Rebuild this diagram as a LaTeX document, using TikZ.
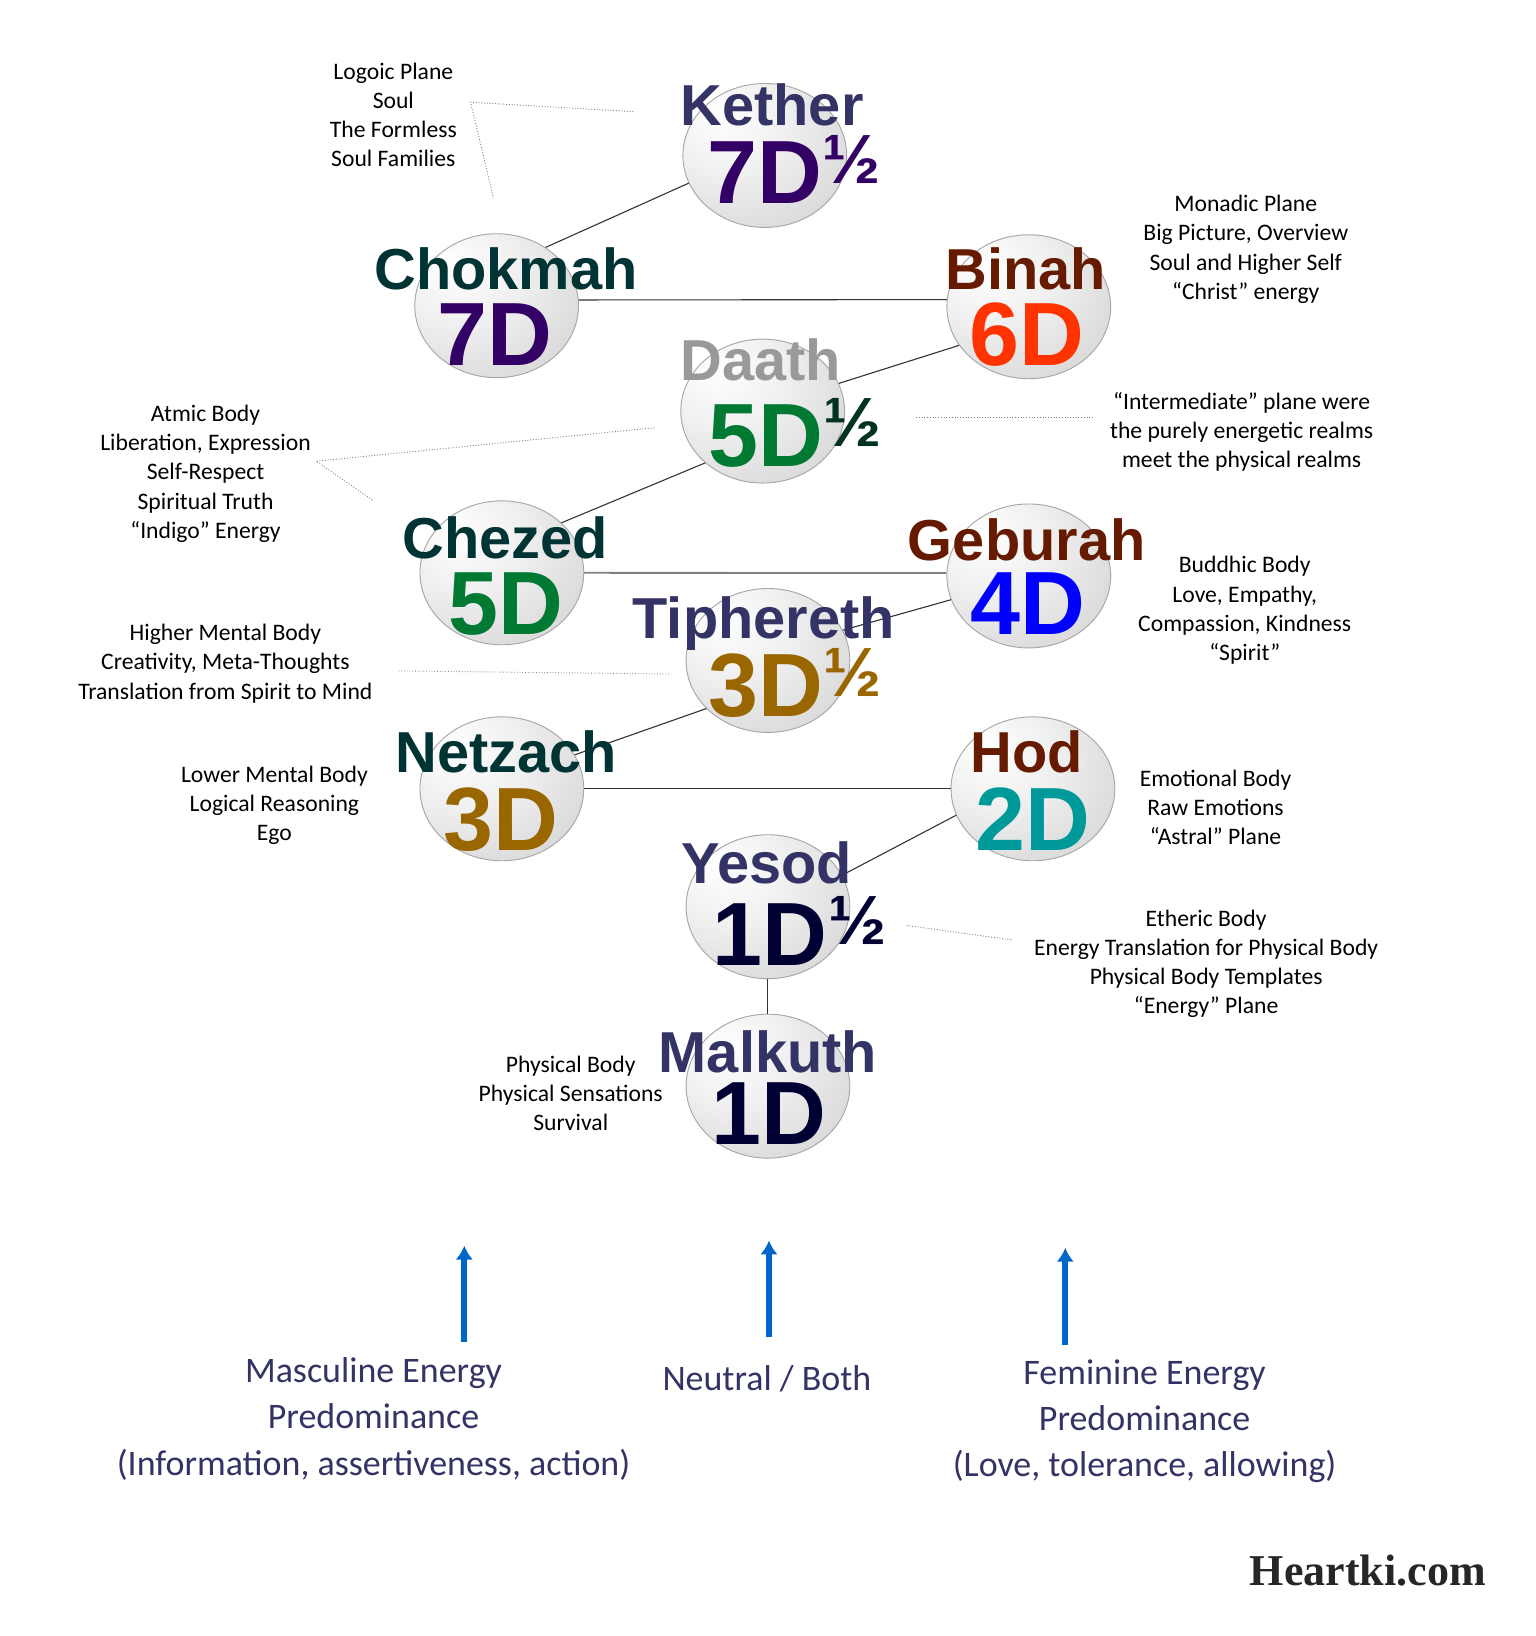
\documentclass[tikz,border=0pt]{standalone}
\usepackage{fontspec}
\setmainfont{Carlito}
\newfontfamily\sephfont{Liberation Sans}
\newfontfamily\sitefont{Liberation Serif}
\usetikzlibrary{shapes.geometric, arrows.meta}
\definecolor{nameblue}{HTML}{333366}
\definecolor{nameteal}{HTML}{003333}
\definecolor{namebrown}{HTML}{661A00}
\definecolor{namegray}{HTML}{999999}
\definecolor{dimpurple}{HTML}{330066}
\definecolor{dimred}{HTML}{FF3300}
\definecolor{dimgreen}{HTML}{007A33}
\definecolor{halfgreen}{HTML}{003322}
\definecolor{dimblue}{HTML}{0000FF}
\definecolor{dimochre}{HTML}{996600}
\definecolor{dimteal}{HTML}{009999}
\definecolor{dimnavy}{HTML}{000033}
\definecolor{flowblue}{HTML}{0066CC}
\pgfdeclareradialshading{sphereshade}{\pgfpoint{-15bp}{15bp}}{color(0bp)=(white); color(18bp)=(black!6); color(48bp)=(black!20); color(72bp)=(black!36)}
\tikzset{sphere/.style={ellipse, minimum width=3.14cm, minimum height=2.76cm, inner sep=0pt, draw=black!35, line width=0.5pt, shading=sphereshade}}
\tikzset{treepath/.style={draw=black!80, line width=0.6pt}}
\tikzset{pointer/.style={draw=black!50, densely dotted, line width=0.5pt}}
\tikzset{sephname/.style={font=\sephfont\bfseries\fontsize{31.5}{32}\selectfont, inner sep=0pt, anchor=base}}
\tikzset{dimnum/.style={font=\sephfont\bfseries\fontsize{49}{50}\selectfont, inner sep=0pt, anchor=base}}
\tikzset{halfmark/.style={font=\sephfont\bfseries\fontsize{38}{38}\selectfont, inner sep=0pt, anchor=base west}}
\tikzset{note/.style={align=center, font=\fontsize{12.9}{15.9}\selectfont}}
\tikzset{energy/.style={align=center, text=nameblue, font=\fontsize{19.6}{25.2}\selectfont}}
\tikzset{flow/.style={draw=flowblue, line width=3.2pt, -{Latex[length=7.5pt, width=9.5pt]}}}

\begin{document}
\begin{tikzpicture}[x=0.02cm, y=-0.02cm]
    \fill[white] (0,0) rectangle (1472,1568);
    \useasboundingbox (0,0) rectangle (1472,1568);

    % spheres
    \foreach \id/\x/\y in {kether/733/149, chokmah/476/293, binah/986/294, daath/731/394, chezed/481/549, geburah/986/552, tiphereth/736/633, netzach/481/756, hod/990/756, yesod/736/869, malkuth/736/1041} {
        \node[sphere] (\id) at (\x,\y) {};
    }

    % paths between the spheres
    \draw[treepath] (kether.200) -- (chokmah.50);
    \draw[treepath] (chokmah.4) -- (binah.175);
    \draw[treepath] (binah.209) -- (daath.20);
    \draw[treepath] (daath.222) -- (chezed.40);
    \draw[treepath, draw=black!50, line width=1pt] (chezed.0) -- (geburah.178);
    \draw[treepath] (geburah.197) -- (tiphereth.22);
    \draw[treepath] (tiphereth.218) -- (netzach.25);
    \draw[treepath] (netzach.0) -- (hod.180);
    \draw[treepath] (hod.199) -- (yesod.23);
    \draw[treepath] (yesod.south) -- (malkuth.north);

    % names and dimensions
    \node[sephname, text=nameblue] (kether-name) at (740,120) {Kether};
    \node[dimnum, text=dimpurple] (kether-dim) at (733,195) {7D};
    \node[halfmark, text=dimpurple] (kether-half) at ([yshift=11pt]kether-dim.base east) {½};

    \node[sephname, text=nameteal] (chokmah-name) at (485,277) {Chokmah};
    \node[dimnum, text=dimpurple] (chokmah-dim) at (474,350) {7D};

    \node[sephname, text=namebrown] (binah-name) at (983,277) {Binah};
    \node[dimnum, text=dimred] (binah-dim) at (984,350) {6D};

    \node[sephname, text=namegray] (daath-name) at (729,365) {Daath};
    \node[dimnum, text=dimgreen] (daath-dim) at (734,447) {5D};
    \node[halfmark, text=halfgreen] (daath-half) at ([yshift=11pt]daath-dim.base east) {½};

    \node[sephname, text=nameteal] (chezed-name) at (484,535) {Chezed};
    \node[dimnum, text=dimgreen] (chezed-dim) at (485,608) {5D};

    \node[sephname, text=namebrown] (geburah-name) at (984,537) {Geburah};
    \node[dimnum, text=dimblue] (geburah-dim) at (985,608) {4D};

    \node[sephname, text=nameblue] (tiphereth-name) at (732,612) {Tiphereth};
    \node[dimnum, text=dimochre] (tiphereth-dim) at (734,687) {3D};
    \node[halfmark, text=dimochre] (tiphereth-half) at ([yshift=11pt]tiphereth-dim.base east) {½};

    \node[sephname, text=nameteal] (netzach-name) at (485,740) {Netzach};
    \node[dimnum, text=dimochre] (netzach-dim) at (480,815) {3D};

    \node[sephname, text=namebrown] (hod-name) at (984,740) {Hod};
    \node[dimnum, text=dimteal] (hod-dim) at (990,815) {2D};

    \node[sephname, text=nameblue] (yesod-name) at (735,847) {Yesod};
    \node[dimnum, text=dimnavy] (yesod-dim) at (738,925) {1D};
    \node[halfmark, text=dimnavy] (yesod-half) at ([yshift=11pt]yesod-dim.base east) {½};

    \node[sephname, text=nameblue] (malkuth-name) at (736,1028) {Malkuth};
    \node[dimnum, text=dimnavy] (malkuth-dim) at (737,1097) {1D};

    % notes
    \node[note] (logoic) at (377,110) {Logoic Plane\\Soul\\The Formless\\Soul Families};
    \node[note] (monadic) at (1194,239) {Monadic Plane\\Big Picture, Overview\\Soul and Higher Self\\“Christ” energy};
    \node[note] (atmic) at (197,454) {Atmic Body\\Liberation, Expression\\Self-Respect\\Spiritual Truth\\“Indigo” Energy};
    \node[note] (intermediate) at (1190,414) {“Intermediate” plane were\\the purely energetic realms\\meet the physical realms};
    \node[note] (buddhic) at (1193,585) {Buddhic Body\\Love, Empathy,\\Compassion, Kindness\\“Spirit”};
    \node[note] (highermental) at (216,636) {Higher Mental Body\\Creativity, Meta-Thoughts\\Translation from Spirit to Mind};
    \node[note] (lowermental) at (263,772) {Lower Mental Body\\Logical Reasoning\\Ego};
    \node[note] (emotional) at (1165,774) {Emotional Body\\Raw Emotions\\“Astral” Plane};
    \node[note] (etheric) at (1156,924) {Etheric Body\\Energy Translation for Physical Body\\Physical Body Templates\\“Energy” Plane};
    \node[note] (physical) at (547,1048) {Physical Body\\Physical Sensations\\Survival};

    % dotted pointers
    \coordinate (logoic-a) at (607,107);
    \coordinate (logoic-b) at (451,98);
    \coordinate (logoic-c) at (473,190);
    \draw[pointer] (logoic-a) -- (logoic-b) -- (logoic-c);
    \coordinate (atmic-a) at (627,410);
    \coordinate (atmic-b) at (303,442);
    \coordinate (atmic-c) at (358,480);
    \draw[pointer] (atmic-a) -- (atmic-b) -- (atmic-c);
    \coordinate (intermediate-a) at (878,400);
    \coordinate (intermediate-b) at (1047,400);
    \draw[pointer] (intermediate-a) -- (intermediate-b);
    \coordinate (highermental-a) at (382,643);
    \coordinate (highermental-b) at (643,646);
    \draw[pointer] (highermental-a) -- (highermental-b);
    \coordinate (etheric-a) at (869,887);
    \coordinate (etheric-b) at (971,901);
    \draw[pointer] (etheric-a) -- (etheric-b);

    % energy arrows
    \node[energy] (masculine) at (358,1360) {Masculine Energy\\Predominance\\(Information, assertiveness, action)};
    \node[energy] (neutral) at (735,1321) {Neutral / Both};
    \node[energy] (feminine) at (1097,1362) {Feminine Energy\\Predominance\\(Love, tolerance, allowing)};
    \coordinate (masculine-tail) at (445,1286);
    \coordinate (masculine-tip) at (445,1194);
    \coordinate (neutral-tail) at (737,1281);
    \coordinate (neutral-tip) at (737,1189);
    \coordinate (feminine-tail) at (1021,1289);
    \coordinate (feminine-tip) at (1021,1196);
    \draw[flow] (masculine-tail) -- (masculine-tip);
    \draw[flow] (neutral-tail) -- (neutral-tip);
    \draw[flow] (feminine-tail) -- (feminine-tip);

    \node[font=\sitefont\bfseries\fontsize{24}{24}\selectfont, text=black!85] (heartki) at (1311,1505) {Heartki.com};
\end{tikzpicture}
\end{document}
